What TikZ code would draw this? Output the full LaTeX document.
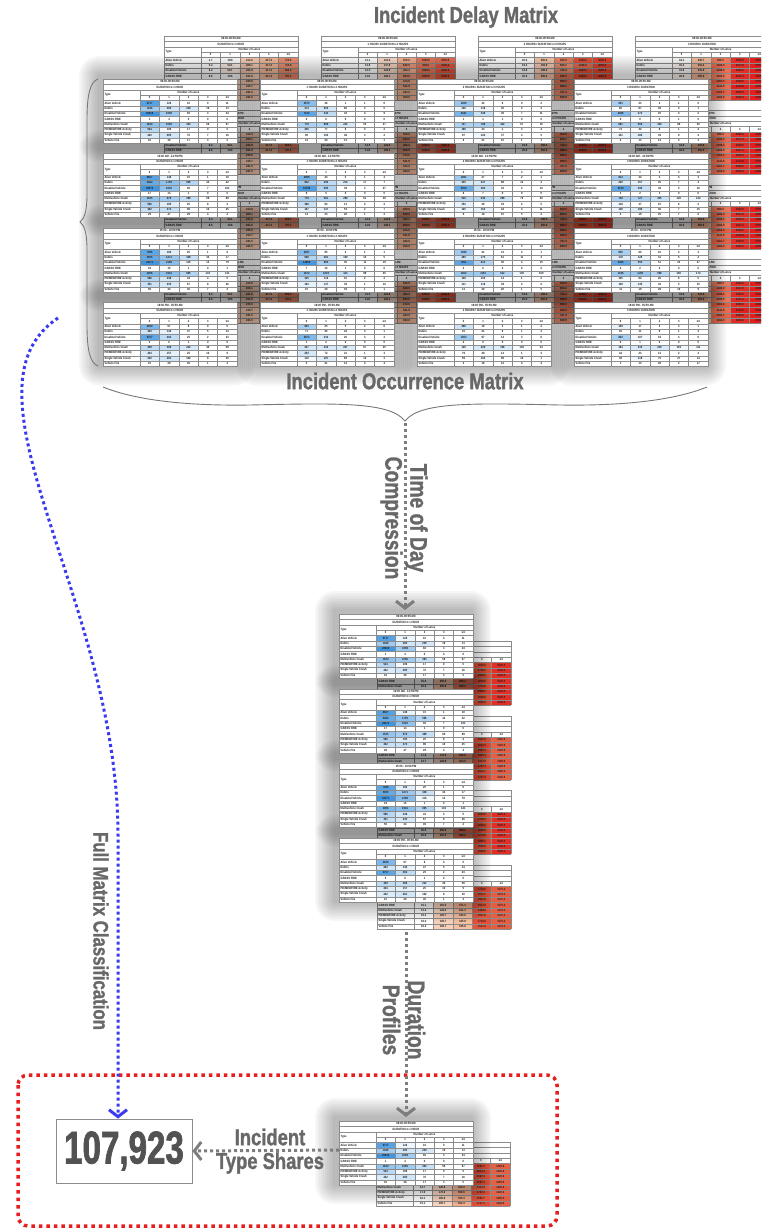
\documentclass[tikz,border=0pt]{standalone}
\usepackage{fontspec}
\setmainfont{Liberation Sans}
\newfontfamily\lblfont{Liberation Sans Bold}[FakeStretch=0.8,FakeBold=1.2]
\newfontfamily\tblfont{Liberation Sans Bold}[FakeStretch=0.85]
\newfontfamily\numfont{Liberation Sans Bold}[FakeStretch=0.72,FakeBold=1.5]
\usetikzlibrary{arrows.meta}
\definecolor{oblue}{RGB}{63,151,228}
\definecolor{dpeach}{RGB}{245,184,150}
\definecolor{dored}{RGB}{229,85,58}
\definecolor{dred}{RGB}{228,29,29}
\definecolor{lblgray}{RGB}{104,104,104}
\definecolor{arrgray}{RGB}{125,125,125}
\definecolor{arrblue}{RGB}{58,58,240}
\definecolor{boxred}{RGB}{232,30,30}
\definecolor{gridc}{RGB}{140,140,140}
\definecolor{bracec}{RGB}{120,120,120}

\tikzset{
 tbltxt/.style={inner sep=0pt, font=\tblfont\fontsize{3.1}{3.1}\selectfont, text=black!88},
 tblgrid/.style={draw=gridc, line width=0.25pt},
 titlelbl/.style={font=\lblfont\fontsize{23}{26}\selectfont, text=lblgray, inner sep=0pt},
 rotlbl/.style={font=\lblfont\fontsize{24}{25}\selectfont, text=lblgray, inner sep=0pt, rotate=-90, align=center},
 sidelbl/.style={font=\lblfont\fontsize{21}{24}\selectfont, text=lblgray, inner sep=0pt, rotate=-90},
 sharelbl/.style={font=\lblfont\fontsize{23}{26}\selectfont, text=lblgray, inner sep=0pt},
 gflow/.style={draw=arrgray, line width=3pt, dash pattern=on 3pt off 3pt, -{Straight Barb[length=7pt,width=18pt]}},
 bflow/.style={draw=arrblue, line width=3pt, dash pattern=on 3pt off 3pt, -{Straight Barb[length=7pt,width=18pt]}},
 bracestyle/.style={draw=bracec, line width=0.9pt},
}

\newcommand\setocc[1]{%
 \edef\cL{\fpeval{ln(max(#1,1))/ln(10)}}%
 \edef\cpct{\fpeval{round(max(0,min(100,(\cL-1.9)/2.3*100)),2)}}%
 \colorlet{cellc}{oblue!\cpct!white}}
\newcommand\setdel[1]{%
 \edef\cL{\fpeval{round(ln(max(#1,1))/ln(10),4)}}%
 \ifdim\cL pt<2.65pt
   \edef\cpct{\fpeval{round(max(0,(\cL-1.48)/1.17*100),2)}}\colorlet{cellc}{dpeach!\cpct!white}%
 \else\ifdim\cL pt<3.18pt
   \edef\cpct{\fpeval{round((\cL-2.65)/0.53*100,2)}}\colorlet{cellc}{dored!\cpct!dpeach}%
 \else
   \edef\cpct{\fpeval{round(min(100,(\cL-3.18)/0.42*100),2)}}\colorlet{cellc}{dred!\cpct!dored}%
 \fi\fi}

% #1 x, #2 y, #3 period, #4 duration, #5 occ/del, #6 data macro
\newcommand\DrawTable[6]{%
\begin{scope}[shift={(#1,#2)}]
 \fill[white] (0,0) rectangle (134,64);
 \foreach \v [count=\i from 0] in #6 {%
   \pgfmathtruncatemacro\rr{floor(\i/5)}%
   \pgfmathtruncatemacro\cc{\i-5*\rr}%
   \csname set#5\endcsname{\v}%
   \fill[cellc] ({37+\cc*19.4},{(4+\rr)*5.3333}) rectangle ++(19.4,5.3333);
   \node[tbltxt] at ({46.7+\cc*19.4},{(4.5+\rr)*5.3333}) {\v};
 }
 \foreach \k in {0,1,2,4,5,6,7,8,9,10,11,12} \draw[tblgrid] (0,{\k*5.3333}) -- (134,{\k*5.3333});
 \draw[tblgrid] (37,16) -- (134,16);
 \draw[tblgrid] (0,0) -- (0,64);
 \draw[tblgrid] (134,0) -- (134,64);
 \draw[tblgrid] (37,10.6667) -- (37,64);
 \foreach \c in {1,2,3,4} \draw[tblgrid] ({37+\c*19.4},16) -- ({37+\c*19.4},64);
 \node[tbltxt] at (67,2.6667) {#3};
 \node[tbltxt] at (67,8) {#4};
 \node[tbltxt,anchor=west] at (1.5,16) {Type};
 \node[tbltxt] at (85.5,13.3333) {Number of Lanes};
 \foreach \h [count=\c from 0] in {0,1,2,3,≥4} \node[tbltxt] at ({46.7+\c*19.4},18.6667) {\h};
 \foreach \lab [count=\r from 0] in {Alien Vehicle,Debris,Disabled Vehicle,GRASS FIRE,Multivehicle Crash,PD/MED/FIRE Activity,Single Vehicle Crash,Vehicle Fire}
   \node[tbltxt,anchor=west] at (1.5,{(4.5+\r)*5.3333}) {\lab};
\end{scope}}

\newcommand\TblGlow[2]{%
 \foreach \g in {2,4,...,20} {\fill[black,opacity=0.032,rounded corners=\g pt] ({#1-4-\g},{#2-3-\g}) rectangle ({#1+132+\g},{#2+63+\g});}}

\def\PA{06:00-09:59 AM}
\def\PB{10:00 AM - 14:59 PM}
\def\PC{15:00 - 18:59 PM}
\def\PD{19:00 PM - 05:59 AM}
\def\DA{DURATION ≤ 1 HOUR}
\def\DB{1 HOUR< DURATION ≤ 2 HOURS}
\def\DC{2 HOURS< DURATION ≤ 3 HOURS}
\def\DD{3 HOURS< DURATION}

\def\occaa{8717,126,10,0,11,1046,285,239,19,13,20918,1069,82,3,34,1,4,0,0,0,1620,1060,363,58,67,544,106,17,0,5,222,285,70,7,16,16,38,17,3,5}
\def\occab{2070,36,1,1,6,374,255,85,4,5,7102,443,32,4,9,0,0,0,0,0,779,689,242,55,27,256,77,6,0,2,90,104,48,3,2,13,20,13,1,1}
\def\occac{1269,32,6,0,2,146,118,45,4,2,3341,338,36,7,11,1,1,1,0,0,737,786,342,67,16,196,34,1,3,4,87,124,37,4,5,6,21,15,1,1}
\def\occad{833,23,4,1,0,85,87,29,2,1,2386,272,25,4,2,0,0,0,1,0,681,658,330,89,50,73,42,8,1,4,141,180,39,9,4,4,13,14,2,3}
\def\occba{8607,146,15,1,10,5484,1793,596,44,22,28472,1625,92,7,101,17,13,1,0,0,1525,970,389,69,89,586,185,25,8,4,362,372,96,10,25,29,47,29,4,4}
\def\occbb{2989,44,5,1,4,952,492,214,17,7,10798,695,39,3,27,9,5,0,0,0,779,561,299,61,28,366,93,13,0,2,167,137,53,2,7,14,23,20,1,2}
\def\occbc{1081,27,7,2,1,245,237,88,12,2,5300,383,32,4,10,6,7,0,0,0,530,545,298,76,40,152,39,19,2,5,125,154,44,4,11,9,18,15,5,2}
\def\occbd{814,34,4,4,3,220,157,45,7,4,6219,390,38,5,16,3,2,3,0,0,738,727,345,120,134,119,37,15,6,2,138,196,46,7,15,4,19,25,7,8}
\def\occca{7086,182,25,1,6,5935,1271,348,34,17,43171,2186,116,14,79,19,15,1,0,1,3006,1941,665,133,121,586,248,43,4,5,351,235,67,8,26,56,34,45,7,2}
\def\occcb{2297,85,4,1,1,668,361,150,10,5,14858,885,45,11,19,7,12,1,0,0,1672,1019,413,99,45,335,116,15,2,2,163,137,39,1,10,15,20,19,1,1}
\def\occcc{1090,41,12,4,1,280,175,61,11,3,7061,613,40,4,15,2,6,0,0,0,1202,1161,612,130,100,148,103,14,1,2,111,119,39,4,6,13,20,20,1,5}
\def\occcd{830,60,10,2,3,178,126,31,5,2,5366,555,51,22,27,4,2,0,0,0,1196,1158,568,160,174,105,84,20,6,5,129,145,42,5,15,11,19,29,10,9}
\def\occda{2830,67,8,0,0,283,144,47,5,14,6757,462,25,2,23,5,6,1,0,0,459,366,232,40,58,204,157,25,10,9,222,281,102,8,30,15,29,45,1,3}
\def\occdb{803,25,5,2,0,71,45,24,3,1,2873,234,20,3,3,1,2,0,0,0,247,232,227,67,25,253,72,21,1,3,110,187,68,10,3,5,21,14,3,4}
\def\occdc{298,18,3,1,2,16,21,6,1,2,1003,97,14,3,6,2,0,0,0,0,128,229,196,103,34,79,48,13,1,3,59,104,69,10,1,4,16,12,4,4}
\def\occdd{149,17,3,3,1,20,11,8,1,3,804,107,19,3,6,0,1,0,0,0,164,233,230,119,111,44,23,13,2,3,38,119,75,27,14,1,13,28,2,17}

\def\dela{1.7,19.8,213.0,417.3,715.6,5.4,54.1,208.1,417.3,715.6,6.4,64.1,221.8,417.3,804.5,8.6,10.6,161.8,417.3,797.1,12.7,126.9,235.6,417.3,715.6,17.0,170.0,215.7,417.3,715.6,16.1,160.6,241.5,417.3,715.6,15.1,150.7,241.5,417.3,715.6}
\def\delb{12.1,121.0,500.0,1000.0,1093.5,13.8,137.8,629.9,993.0,1500.0,12.5,124.9,464.4,1000.0,1500.0,11.8,109.1,600.0,1000.0,1500.0,12.7,126.9,474.6,1000.0,1500.0,17.0,170.0,521.9,1000.0,1500.0,16.1,160.6,443.0,1000.0,1500.0,15.1,150.7,450.0,1000.0,1500.0}
\def\delc{25.0,250.0,900.0,1600.0,2000.0,19.4,193.9,680.2,1136.6,2000.0,19.8,198.0,744.4,1600.0,2000.0,25.0,250.0,999.2,1600.0,2000.0,25.0,250.0,999.2,1600.0,2000.0,25.0,250.0,999.2,1600.0,2000.0,25.0,250.0,787.4,1600.0,2000.0,25.0,250.0,689.9,1600.0,2000.0}
\def\deld{34.1,340.7,999.3,3000.0,4700.0,45.2,452.4,1180.0,3017.9,4700.0,33.6,335.9,1099.2,3000.0,4700.0,46.0,450.0,1000.0,3247.4,4700.0,45.0,450.0,1363.3,3000.0,4700.0,45.0,450.0,1141.6,4134.9,4700.0,45.0,450.0,1301.7,3000.0,4700.0,45.0,450.0,1160.0,3000.0,4700.0}
\def\delmA{25.0,250.0,999.2,1600.0,3000.0,19.4,193.9,680.2,1736.6,3000.0,19.8,198.0,744.4,1600.0,3000.0,25.0,250.0,999.2,1600.0,3000.0,25.0,250.0,999.2,1713.6,3000.0,19.4,193.9,999.2,1965.1,3000.0,25.0,250.0,787.4,1600.0,3000.0,25.0,250.0,689.9,1695.6,3000.0}
\def\delmB{12.1,121.0,403.3,1597.3,1320.6,13.8,137.8,459.3,1813.3,1320.6,12.5,124.9,416.4,1597.3,1320.6,17.0,170.0,566.6,1597.3,1320.6,12.7,126.9,423.0,1317.9,1480.6,17.0,170.0,566.6,1797.3,1320.6,16.1,160.6,535.3,1581.7,1390.2,15.1,150.7,502.3,1747.3,1320.6}
\def\delmC{12.1,121.0,403.3,1732.6,1370.3,13.8,137.8,459.3,1571.7,1370.3,12.5,124.9,416.4,1547.8,1370.3,16.1,161.5,471.3,1547.8,1370.3,12.4,124.4,421.3,1484.8,1370.3,18.4,183.7,345.8,1547.8,1370.3,18.4,183.7,345.8,1732.6,1370.3,18.4,183.7,345.8,1547.8,1370.3}

\begin{document}
\begin{tikzpicture}[x=1pt,y=-1pt]
\useasboundingbox (0,0) rectangle (761,1230);
\clip (0,0) rectangle (761,1230);

% ---------- titles ----------
\node[titlelbl] (delaytitle) at (466,17) {Incident Delay Matrix};

% ---------- top grid: delay matrices (back) ----------
\DrawTable{164}{36}{\PA}{\DA}{del}{\dela}
\DrawTable{321}{36}{\PA}{\DB}{del}{\delb}
\DrawTable{478}{36}{\PA}{\DC}{del}{\delc}
\DrawTable{635}{36}{\PA}{\DD}{del}{\deld}
\DrawTable{164}{110.5}{\PB}{\DA}{del}{\dela}
\DrawTable{321}{110.5}{\PB}{\DB}{del}{\delb}
\DrawTable{478}{110.5}{\PB}{\DC}{del}{\delc}
\DrawTable{635}{110.5}{\PB}{\DD}{del}{\deld}
\DrawTable{164}{185}{\PC}{\DA}{del}{\dela}
\DrawTable{321}{185}{\PC}{\DB}{del}{\delb}
\DrawTable{478}{185}{\PC}{\DC}{del}{\delc}
\DrawTable{635}{185}{\PC}{\DD}{del}{\deld}
\DrawTable{164}{259.5}{\PD}{\DA}{del}{\dela}
\DrawTable{321}{259.5}{\PD}{\DB}{del}{\delb}
\DrawTable{478}{259.5}{\PD}{\DC}{del}{\delc}
\DrawTable{635}{259.5}{\PD}{\DD}{del}{\deld}

% shadows of the occurrence matrices
\foreach \gx in {103,260,417,574} {\foreach \gy in {79,153.5,228,302.5} {\TblGlow{\gx}{\gy}}}

% ---------- top grid: occurrence matrices (front) ----------
\DrawTable{103}{79}{\PA}{\DA}{occ}{\occaa}
\DrawTable{260}{79}{\PA}{\DB}{occ}{\occab}
\DrawTable{417}{79}{\PA}{\DC}{occ}{\occac}
\DrawTable{574}{79}{\PA}{\DD}{occ}{\occad}
\DrawTable{103}{153.5}{\PB}{\DA}{occ}{\occba}
\DrawTable{260}{153.5}{\PB}{\DB}{occ}{\occbb}
\DrawTable{417}{153.5}{\PB}{\DC}{occ}{\occbc}
\DrawTable{574}{153.5}{\PB}{\DD}{occ}{\occbd}
\DrawTable{103}{228}{\PC}{\DA}{occ}{\occca}
\DrawTable{260}{228}{\PC}{\DB}{occ}{\occcb}
\DrawTable{417}{228}{\PC}{\DC}{occ}{\occcc}
\DrawTable{574}{228}{\PC}{\DD}{occ}{\occcd}
\DrawTable{103}{302.5}{\PD}{\DA}{occ}{\occda}
\DrawTable{260}{302.5}{\PD}{\DB}{occ}{\occdb}
\DrawTable{417}{302.5}{\PD}{\DC}{occ}{\occdc}
\DrawTable{574}{302.5}{\PD}{\DD}{occ}{\occdd}

\node[titlelbl] (occtitle) at (405,381) {Incident Occurrence Matrix};

% ---------- braces ----------
\draw[bracestyle] (98,79) .. controls (90,82) and (87,95) .. (87,120) -- (87,195) .. controls (87,212) and (84,219) .. (80,222) .. controls (84,225) and (87,232) .. (87,249) -- (87,325) .. controls (87,350) and (90,363) .. (98,366);
\draw[bracestyle] (103,387) .. controls (135,400) and (185,406) .. (250,405) .. controls (340,403) and (390,402) .. (405,421) .. controls (420,402) and (470,403) .. (560,405) .. controls (625,406) and (675,400) .. (707,387);

% ---------- middle stack (time of day compression) ----------
\DrawTable{377}{641}{\PA}{\DA}{del}{\delmA}
\DrawTable{377}{715.7}{\PB}{\DA}{del}{\delmB}
\DrawTable{377}{790.4}{\PC}{\DA}{del}{\delmA}
\DrawTable{377}{865.1}{\PD}{\DA}{del}{\delmC}
\TblGlow{339}{614}
\TblGlow{339}{688.7}
\TblGlow{339}{763.4}
\TblGlow{339}{838.1}
\DrawTable{339}{614}{\PA}{\DA}{occ}{\occaa}
\DrawTable{339}{688.7}{\PB}{\DA}{occ}{\occba}
\DrawTable{339}{763.4}{\PC}{\DA}{occ}{\occca}
\DrawTable{339}{838.1}{\PD}{\DA}{occ}{\occda}

% ---------- bottom (duration profiles) ----------
\draw[boxred, line width=3.5pt, dash pattern=on 3.5pt off 4pt, rounded corners=10pt] (18,1075) rectangle (557,1226);
\DrawTable{376}{1142}{\PA}{\DA}{del}{\delmB}
\TblGlow{339}{1121}
\DrawTable{339}{1121}{\PA}{\DA}{occ}{\occaa}

\node[draw=black!45, line width=0.8pt, fill=white, minimum width=136, minimum height=64, inner sep=0pt,
      font=\numfont\fontsize{46}{46}\selectfont, text=black!68] (total) at (124,1151) {107,923};

% ---------- coordinates ----------
\coordinate (bracetip) at (405,423);
\coordinate (midtop) at (405,610);
\coordinate (midbot) at (406,932);
\coordinate (bottop) at (406,1117);
\coordinate (botleft) at (339,1150);
\coordinate (bstart) at (58,318);
\coordinate (bbend) at (118,835);

% ---------- connectors ----------
\draw[gflow] (bracetip) -- (midtop);
\draw[gflow] (midbot) -- (bottop);
\draw[gflow] (botleft) -- (total.east);
\draw[bflow] (bstart) .. controls (-50,390) and (118,600) .. (bbend) -- (bbend |- total.north);

% ---------- labels ----------
\node[rotlbl] (todlbl) at (404,518) {Time of Day\\Compression};
\node[rotlbl] (durlbl) at (404,1020) {Duration\\Profiles};
\node[sidelbl] (fulllbl) at (101,931) {Full Matrix Classification};
\node[sharelbl] (inclbl) at (270,1137) {Incident};
\node[sharelbl] (typelbl) at (270,1163) {Type Shares};
\end{tikzpicture}
\end{document}
